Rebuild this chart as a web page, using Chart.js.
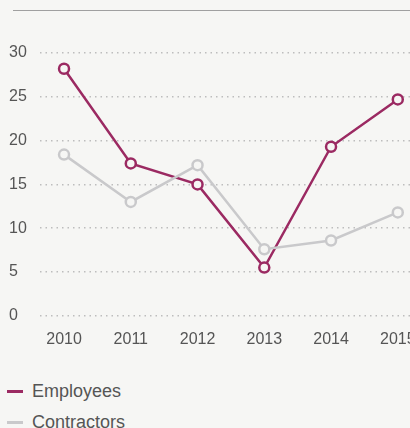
<!DOCTYPE html>
<html>
<head>
<meta charset="utf-8">
<script src="https://cdn.jsdelivr.net/npm/chart.js@4/dist/chart.umd.min.js"></script>
<style>
  html, body { margin: 0; padding: 0; background: #f6f6f4; overflow: hidden; }
  body { width: 410px; height: 428px; position: relative; font-family: 'Liberation Sans', sans-serif; }
  .topline { position: absolute; left: 13px; right: 0; top: 10px; border-top: 1.5px solid #a0a0a0; }
  .wrap { position: absolute; left: 0; top: 0; width: 440px; height: 355px; }
  #legend { position: absolute; left: 7px; top: 376px; color: #555; font-size: 18px; }
  #legend .item { display: flex; align-items: center; height: 31px; }
  #legend .swatch { width: 16px; height: 3px; margin-right: 9px; }
</style>
</head>
<body>
<div class="topline"></div>
<div class="wrap"><canvas id="lineChart"></canvas></div>
<div id="legend"></div>
<script>
const years = ['2010', '2011', '2012', '2013', '2014', '2015'];
const employees = [28.2, 17.4, 15.0, 5.5, 19.3, 24.7];
const contractors = [18.4, 13.0, 17.2, 7.6, 8.6, 11.8];
const yTicks = [0, 5, 10, 15, 20, 25, 30];

document.addEventListener('DOMContentLoaded', function() {
    const toPoints = (vals) => vals.map((v, i) => ({ x: Number(years[i]), y: v }));
    const series = [
        { label: 'Employees', data: employees, color: '#9b2a62' },
        { label: 'Contractors', data: contractors, color: '#c9c9cb' }
    ];
    const tickFont = { size: 16, family: "'Liberation Sans', sans-serif" };

    const ctx = document.getElementById('lineChart').getContext('2d');
    new Chart(ctx, {
        type: 'line',
        data: {
            datasets: series.slice().reverse().map(s => ({
                label: s.label,
                data: toPoints(s.data),
                borderColor: s.color,
                backgroundColor: '#f6f6f4',
                pointBackgroundColor: '#f6f6f4',
                pointBorderColor: s.color,
                pointBorderWidth: 2.5,
                pointRadius: 5,
                borderWidth: 2.5,
                tension: 0
            }))
        },
        options: {
            responsive: true,
            maintainAspectRatio: false,
            animation: false,
            layout: { padding: { left: 9, top: 53, right: 0, bottom: 0 } },
            scales: {
                x: {
                    type: 'linear',
                    min: 2009.64,
                    max: 2015.52,
                    grid: { display: false },
                    border: { display: false },
                    afterBuildTicks: (axis) => { axis.ticks = years.map(y => ({ value: Number(y) })); },
                    ticks: {
                        color: '#555',
                        font: tickFont,
                        padding: 6,
                        maxRotation: 0,
                        callback: (v) => String(v)
                    }
                },
                y: {
                    min: 0,
                    max: 30,
                    afterBuildTicks: (axis) => { axis.ticks = yTicks.map(v => ({ value: v })); },
                    afterFit: (axis) => { axis.width = 31; },
                    grid: { color: '#bdbdbd', lineWidth: 1.5, drawTicks: false },
                    border: { display: false, dash: [1.5, 4] },
                    ticks: {
                        color: '#555',
                        crossAlign: 'far',
                        padding: 10,
                        font: tickFont
                    }
                }
            },
            plugins: {
                legend: { display: false },
                tooltip: { enabled: false }
            }
        }
    });

    const legend = document.getElementById('legend');
    series.forEach(s => {
        const item = document.createElement('div');
        item.className = 'item';
        item.innerHTML = '<span class="swatch" style="background:' + s.color + '"></span>' + s.label;
        legend.appendChild(item);
    });
});
</script>
</body>
</html>
